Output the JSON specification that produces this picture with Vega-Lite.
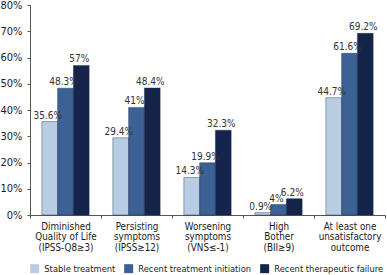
{
  "$schema": "https://vega.github.io/schema/vega-lite/v6.json",
  "width": 387,
  "height": 275,
  "autosize": {"type": "fit", "contains": "padding"},
  "padding": {"left": 0, "right": 1, "top": -1, "bottom": 1},
  "background": "white",
  "config": {
    "font": "DejaVu Sans Condensed",
    "view": {"stroke": null},
    "axis": {"grid": false, "domainColor": "#555", "tickColor": "#555", "labelColor": "#1a1a1a", "labelFont": "DejaVu Sans Condensed"}
  },
  "data": {
    "values": [
      {"cat": "Diminished|Quality of Life|(IPSS-Q8≥3)", "series": "Stable treatment", "v": 0.356},
      {"cat": "Diminished|Quality of Life|(IPSS-Q8≥3)", "series": "Recent treatment initiation", "v": 0.483},
      {"cat": "Diminished|Quality of Life|(IPSS-Q8≥3)", "series": "Recent therapeutic failure", "v": 0.57},
      {"cat": "Persisting|symptoms|(IPSS≥12)", "series": "Stable treatment", "v": 0.294},
      {"cat": "Persisting|symptoms|(IPSS≥12)", "series": "Recent treatment initiation", "v": 0.41},
      {"cat": "Persisting|symptoms|(IPSS≥12)", "series": "Recent therapeutic failure", "v": 0.484},
      {"cat": "Worsening|symptoms|(VNS≤-1)", "series": "Stable treatment", "v": 0.143},
      {"cat": "Worsening|symptoms|(VNS≤-1)", "series": "Recent treatment initiation", "v": 0.199},
      {"cat": "Worsening|symptoms|(VNS≤-1)", "series": "Recent therapeutic failure", "v": 0.323},
      {"cat": "High|Bother|(BII≥9)", "series": "Stable treatment", "v": 0.009},
      {"cat": "High|Bother|(BII≥9)", "series": "Recent treatment initiation", "v": 0.04},
      {"cat": "High|Bother|(BII≥9)", "series": "Recent therapeutic failure", "v": 0.062},
      {"cat": "At least one|unsatisfactory|outcome", "series": "Stable treatment", "v": 0.447},
      {"cat": "At least one|unsatisfactory|outcome", "series": "Recent treatment initiation", "v": 0.616},
      {"cat": "At least one|unsatisfactory|outcome", "series": "Recent therapeutic failure", "v": 0.692}
    ]
  },
  "encoding": {
    "x": {
      "field": "cat", "type": "nominal", "sort": null, "title": null,
      "scale": {"paddingInner": 0, "paddingOuter": 0},
      "axis": {"labelAngle": 0, "labelExpr": "split(datum.label, '|')", "tickBand": "extent", "labelFontSize": 9.8, "labelPadding": 3, "tickSize": 3, "labelLineHeight": 10.5, "labelOverlap": false}
    },
    "xOffset": {"field": "series", "type": "nominal", "sort": ["Stable treatment", "Recent treatment initiation", "Recent therapeutic failure"], "scale": {"paddingOuter": 0.75, "paddingInner": 0}},
    "y": {
      "field": "v", "type": "quantitative", "title": null,
      "scale": {"domain": [0, 0.8]},
      "axis": {"format": ".0%", "values": [0, 0.1, 0.2, 0.3, 0.4, 0.5, 0.6, 0.7, 0.8], "labelFontSize": 11, "tickSize": 3, "labelPadding": 5, "labelOverlap": false, "labelFlush": false}
    }
  },
  "layer": [
    {
      "mark": {"type": "bar", "stroke": "#1a2a40", "strokeWidth": 0.4},
      "encoding": {
        "color": {
          "field": "series", "type": "nominal", "title": null,
          "sort": ["Stable treatment", "Recent treatment initiation", "Recent therapeutic failure"],
          "scale": {"domain": ["Stable treatment", "Recent treatment initiation", "Recent therapeutic failure"], "range": ["#b8cce4", "#3b6195", "#14244a"]},
          "legend": {"orient": "bottom", "direction": "horizontal", "symbolType": "square", "symbolSize": 81, "symbolStrokeWidth": 0, "labelFontSize": 9.3, "labelFont": "DejaVu Sans Condensed", "labelColor": "#1a1a1a", "columnPadding": 8, "labelOffset": 5, "padding": 0, "offset": 12}
        }
      }
    },
    {
      "mark": {"type": "text", "dy": -6, "dx": -2, "fontSize": 10, "color": "#333"},
      "encoding": {
        "text": {"field": "v", "type": "quantitative", "format": ".3~%"}
      }
    }
  ]
}
